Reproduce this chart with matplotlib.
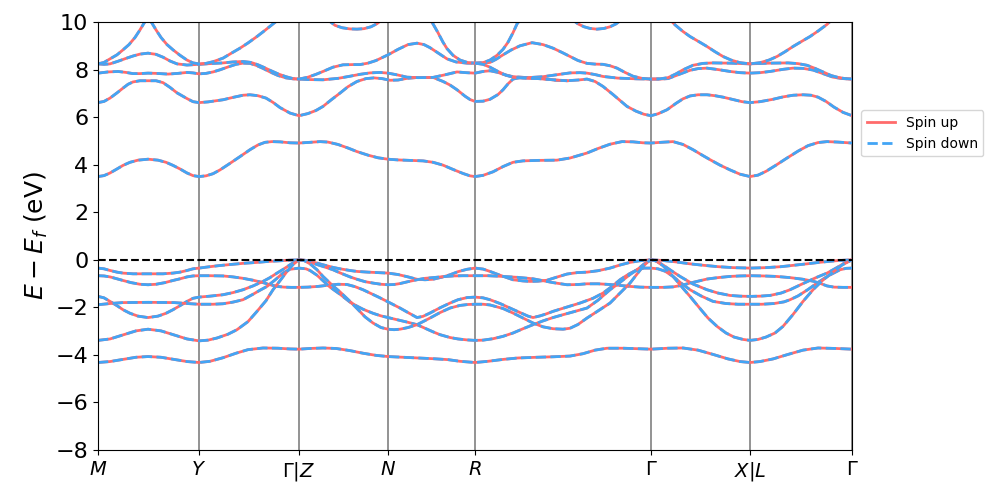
import matplotlib
matplotlib.use("Agg")
import matplotlib.pyplot as plt

# high-symmetry points along the path (k distance)
kpoint_labels = ["$M$", "$Y$", r"$\Gamma|Z$", "$N$", "$R$", r"$\Gamma$", "$X|L$", r"$\Gamma$"]
kpoint_pos = [0.00, 1.01, 2.01, 2.90, 3.77, 5.53, 6.52, 7.54]

# valence bands, (k, E - Ef)
v_a = [(0.00, -0.35), (0.06, -0.38), (0.12, -0.45), (0.19, -0.52), (0.25, -0.56), (0.35, -0.59), (0.50, -0.59),
       (0.65, -0.59), (0.75, -0.56), (0.82, -0.52), (0.89, -0.45), (0.95, -0.38), (1.01, -0.35),
       (1.10, -0.30), (1.20, -0.25), (1.32, -0.20), (1.45, -0.15), (1.59, -0.11), (1.70, -0.07), (1.79, -0.05),
       (1.90, -0.02), (2.01, 0.00),
       (2.07, -0.02), (2.12, -0.07), (2.19, -0.14), (2.25, -0.21), (2.35, -0.32), (2.42, -0.38), (2.52, -0.45),
       (2.59, -0.49), (2.70, -0.52), (2.80, -0.54), (2.90, -0.56), (3.00, -0.62), (3.10, -0.72), (3.19, -0.82),
       (3.27, -0.84), (3.35, -0.82), (3.45, -0.72), (3.52, -0.63), (3.60, -0.50), (3.69, -0.40), (3.77, -0.35),
       (3.85, -0.39), (3.92, -0.49), (4.02, -0.65), (4.15, -0.84), (4.25, -0.89), (4.32, -0.91), (4.40, -0.90),
       (4.49, -0.86), (4.58, -0.74), (4.69, -0.60), (4.79, -0.54), (4.89, -0.52), (5.00, -0.46), (5.12, -0.35),
       (5.22, -0.22), (5.32, -0.11), (5.42, -0.04), (5.53, 0.00),
       (5.65, -0.03), (5.78, -0.09), (5.92, -0.17), (6.05, -0.23), (6.20, -0.29), (6.35, -0.33), (6.52, -0.35),
       (6.68, -0.33), (6.83, -0.29), (6.96, -0.23), (7.09, -0.17), (7.23, -0.10), (7.38, -0.04), (7.54, 0.00)]
v_b = [(0.00, -0.67), (0.06, -0.68), (0.12, -0.72), (0.19, -0.80), (0.25, -0.87), (0.33, -0.96), (0.42, -1.03),
       (0.50, -1.05), (0.58, -1.03), (0.67, -0.96), (0.75, -0.87), (0.82, -0.80), (0.89, -0.72), (0.95, -0.68),
       (1.01, -0.67),
       (1.12, -0.67), (1.25, -0.68), (1.35, -0.72), (1.45, -0.78), (1.55, -0.86), (1.65, -0.96), (1.72, -1.05),
       (1.79, -1.12), (1.86, -1.15), (1.93, -1.16), (2.01, -1.16),
       (2.10, -1.15), (2.20, -1.12), (2.30, -1.07), (2.40, -1.03), (2.49, -1.04), (2.57, -1.13), (2.65, -1.26),
       (2.73, -1.42), (2.81, -1.58), (2.89, -1.75), (2.96, -1.90), (3.02, -2.03), (3.10, -2.22), (3.19, -2.43),
       (3.25, -2.38), (3.32, -2.24), (3.42, -2.02), (3.52, -1.82), (3.60, -1.68), (3.69, -1.59), (3.77, -1.57),
       (3.85, -1.60), (3.92, -1.68), (4.02, -1.84), (4.12, -2.03), (4.22, -2.22), (4.30, -2.37), (4.35, -2.43),
       (4.42, -2.36), (4.48, -2.28), (4.55, -2.17), (4.68, -2.00), (4.82, -1.82), (4.95, -1.62), (5.05, -1.40),
       (5.14, -1.12), (5.22, -0.84), (5.30, -0.62), (5.39, -0.42), (5.46, -0.35), (5.53, -0.35),
       (5.60, -0.38), (5.67, -0.48), (5.75, -0.70), (5.83, -0.98), (5.92, -1.26), (6.03, -1.52), (6.15, -1.75),
       (6.28, -1.84), (6.40, -1.87), (6.52, -1.87), (6.64, -1.87), (6.76, -1.84), (6.86, -1.77), (6.92, -1.68),
       (7.00, -1.52), (7.10, -1.25), (7.19, -0.98), (7.30, -0.68), (7.42, -0.42), (7.48, -0.36), (7.54, -0.35)]
v_c = [(0.00, -1.54), (0.06, -1.60), (0.12, -1.75), (0.19, -1.93), (0.25, -2.10), (0.32, -2.25), (0.40, -2.37),
       (0.50, -2.43), (0.60, -2.37), (0.68, -2.25), (0.75, -2.10), (0.82, -1.93), (0.89, -1.75), (0.95, -1.62),
       (1.01, -1.57),
       (1.12, -1.53), (1.25, -1.47), (1.35, -1.38), (1.45, -1.26), (1.55, -1.10), (1.65, -0.91), (1.72, -0.75),
       (1.79, -0.56), (1.86, -0.38), (1.92, -0.21), (1.97, -0.08), (2.01, 0.00),
       (2.07, -0.04), (2.12, -0.10), (2.19, -0.20), (2.25, -0.28), (2.35, -0.42), (2.42, -0.55), (2.52, -0.72),
       (2.59, -0.82), (2.67, -0.92), (2.75, -0.98), (2.83, -1.03), (2.90, -1.05), (2.96, -1.04), (3.02, -1.00),
       (3.10, -0.92), (3.19, -0.84), (3.27, -0.78), (3.35, -0.75), (3.45, -0.71), (3.55, -0.68), (3.65, -0.67),
       (3.77, -0.67),
       (3.90, -0.67), (4.05, -0.70), (4.20, -0.74), (4.35, -0.80), (4.45, -0.88), (4.55, -0.96), (4.69, -1.05),
       (4.80, -1.04), (4.89, -1.01), (5.00, -1.01), (5.12, -1.04), (5.22, -1.08), (5.32, -1.12), (5.42, -1.15),
       (5.53, -1.16),
       (5.65, -1.16), (5.75, -1.14), (5.83, -1.08), (5.92, -0.98), (6.00, -0.90), (6.09, -0.81), (6.20, -0.75),
       (6.32, -0.70), (6.42, -0.68), (6.52, -0.67), (6.65, -0.68), (6.78, -0.70), (6.92, -0.75), (7.05, -0.82),
       (7.15, -0.90), (7.22, -0.99), (7.29, -1.10), (7.36, -1.15), (7.45, -1.16), (7.54, -1.16)]
v_d = [(0.00, -1.89), (0.12, -1.84), (0.25, -1.80), (0.50, -1.79), (0.76, -1.80), (0.89, -1.84), (1.01, -1.87),
       (1.15, -1.87), (1.25, -1.85), (1.35, -1.78), (1.45, -1.68), (1.55, -1.45), (1.62, -1.28), (1.69, -1.12),
       (1.77, -0.85), (1.85, -0.56), (1.92, -0.40), (2.01, -0.35),
       (2.08, -0.38), (2.12, -0.45), (2.19, -0.65), (2.25, -0.88), (2.32, -1.15), (2.42, -1.45), (2.52, -1.78),
       (2.59, -1.95), (2.65, -2.08), (2.75, -2.25), (2.83, -2.36), (2.92, -2.45), (3.02, -2.55), (3.10, -2.63),
       (3.19, -2.73), (3.27, -2.88), (3.35, -3.03), (3.42, -3.15), (3.52, -3.27), (3.60, -3.33), (3.69, -3.37),
       (3.77, -3.39),
       (3.85, -3.38), (3.95, -3.32), (4.05, -3.22), (4.15, -3.08), (4.25, -2.90), (4.35, -2.73), (4.45, -2.57),
       (4.55, -2.43), (4.65, -2.31), (4.77, -2.17), (4.89, -2.03), (5.00, -1.70), (5.12, -1.26), (5.22, -0.95),
       (5.32, -0.62), (5.39, -0.42), (5.46, -0.18), (5.53, 0.00),
       (5.58, -0.05), (5.65, -0.22), (5.73, -0.45), (5.82, -0.70), (5.95, -1.02), (6.09, -1.26), (6.20, -1.40),
       (6.32, -1.50), (6.42, -1.53), (6.52, -1.54), (6.62, -1.53), (6.72, -1.50), (6.83, -1.40), (6.92, -1.26),
       (7.05, -1.00), (7.18, -0.75), (7.29, -0.56), (7.38, -0.35), (7.46, -0.15), (7.54, 0.00)]
v_e = [(0.00, -3.39), (0.12, -3.33), (0.25, -3.16), (0.38, -2.99), (0.50, -2.92), (0.63, -2.99), (0.76, -3.16),
       (0.89, -3.33), (1.01, -3.41),
       (1.10, -3.38), (1.19, -3.29), (1.30, -3.13), (1.39, -2.94), (1.50, -2.60), (1.59, -2.17), (1.68, -1.72),
       (1.75, -1.26), (1.82, -0.88), (1.89, -0.49), (1.95, -0.20), (2.01, 0.00),
       (2.06, -0.03), (2.12, -0.17), (2.19, -0.42), (2.25, -0.70), (2.35, -1.10), (2.42, -1.35), (2.52, -1.75),
       (2.59, -2.05), (2.67, -2.40), (2.75, -2.66), (2.83, -2.85), (2.90, -2.92), (2.96, -2.94), (3.02, -2.92),
       (3.10, -2.85), (3.19, -2.73), (3.32, -2.45), (3.42, -2.22), (3.52, -2.03), (3.62, -1.92), (3.70, -1.88),
       (3.77, -1.87),
       (3.85, -1.87), (3.92, -1.90), (4.05, -2.05), (4.15, -2.24), (4.25, -2.45), (4.35, -2.66), (4.45, -2.82),
       (4.55, -2.90), (4.65, -2.92), (4.72, -2.88), (4.80, -2.72), (4.89, -2.45), (5.00, -2.15), (5.12, -1.82),
       (5.22, -1.40), (5.32, -0.98), (5.39, -0.60), (5.45, -0.28), (5.50, -0.08), (5.53, 0.00),
       (5.58, -0.05), (5.65, -0.25), (5.75, -0.70), (5.85, -1.20), (5.92, -1.54), (6.02, -2.05), (6.10, -2.45),
       (6.19, -2.80), (6.28, -3.08), (6.36, -3.25), (6.45, -3.35), (6.52, -3.39), (6.60, -3.35), (6.68, -3.25),
       (6.77, -3.08), (6.85, -2.80), (6.95, -2.30), (7.05, -1.75), (7.15, -1.26), (7.25, -0.85), (7.35, -0.52),
       (7.44, -0.22), (7.54, 0.00)]
v_f = [(0.00, -4.32), (0.12, -4.28), (0.25, -4.19), (0.38, -4.10), (0.50, -4.07), (0.63, -4.10), (0.76, -4.19),
       (0.89, -4.28), (1.01, -4.32),
       (1.12, -4.27), (1.25, -4.12), (1.38, -3.93), (1.50, -3.78), (1.65, -3.71), (1.80, -3.72), (1.92, -3.75),
       (2.01, -3.76),
       (2.12, -3.73), (2.25, -3.71), (2.38, -3.73), (2.52, -3.82), (2.65, -3.93), (2.78, -4.02), (2.90, -4.07),
       (3.05, -4.10), (3.20, -4.13), (3.35, -4.16), (3.50, -4.20), (3.62, -4.27), (3.77, -4.32),
       (3.90, -4.27), (4.05, -4.19), (4.20, -4.13), (4.39, -4.10), (4.55, -4.08), (4.72, -4.05), (4.85, -3.95),
       (4.97, -3.80), (5.09, -3.72), (5.25, -3.72), (5.40, -3.74), (5.53, -3.76),
       (5.70, -3.72), (5.85, -3.71), (6.00, -3.80), (6.15, -3.98), (6.30, -4.17), (6.42, -4.28), (6.52, -4.32),
       (6.62, -4.28), (6.75, -4.17), (6.90, -3.98), (7.05, -3.80), (7.20, -3.71), (7.38, -3.73), (7.54, -3.76)]

# conduction bands
c_1 = [(0.00, 3.50), (0.06, 3.54), (0.12, 3.65), (0.19, 3.82), (0.25, 3.97), (0.32, 4.10), (0.40, 4.19),
       (0.50, 4.23), (0.60, 4.19), (0.68, 4.10), (0.75, 3.97), (0.82, 3.82), (0.89, 3.65), (0.95, 3.54),
       (1.01, 3.50),
       (1.08, 3.53), (1.15, 3.62), (1.22, 3.78), (1.30, 4.00), (1.42, 4.34), (1.52, 4.63), (1.60, 4.83),
       (1.67, 4.94), (1.74, 4.97), (1.82, 4.96), (1.92, 4.92), (2.01, 4.91),
       (2.12, 4.94), (2.22, 4.97), (2.30, 4.95), (2.40, 4.85), (2.50, 4.70), (2.59, 4.55), (2.70, 4.40),
       (2.80, 4.29), (2.90, 4.23), (3.00, 4.20), (3.12, 4.18), (3.25, 4.16), (3.35, 4.10), (3.45, 3.98),
       (3.55, 3.80), (3.65, 3.63), (3.72, 3.53), (3.77, 3.50),
       (3.85, 3.55), (3.95, 3.70), (4.05, 3.92), (4.15, 4.10), (4.25, 4.16), (4.40, 4.18), (4.59, 4.19),
       (4.72, 4.28), (4.89, 4.49), (5.00, 4.68), (5.12, 4.86), (5.24, 4.97), (5.35, 4.96), (5.45, 4.92),
       (5.53, 4.91),
       (5.63, 4.94), (5.75, 4.97), (5.85, 4.85), (5.95, 4.63), (6.05, 4.38), (6.12, 4.21), (6.22, 3.98),
       (6.32, 3.78), (6.42, 3.60), (6.52, 3.50), (6.60, 3.56), (6.68, 3.72), (6.78, 3.98), (6.89, 4.28),
       (7.00, 4.57), (7.10, 4.80), (7.20, 4.93), (7.29, 4.97), (7.40, 4.95), (7.54, 4.91)]
c_2 = [(0.00, 6.61), (0.06, 6.66), (0.12, 6.80), (0.19, 7.02), (0.25, 7.22), (0.30, 7.38), (0.35, 7.48),
       (0.42, 7.53), (0.50, 7.53), (0.58, 7.53), (0.65, 7.45), (0.72, 7.25), (0.79, 7.02), (0.89, 6.78),
       (0.95, 6.65), (1.01, 6.61),
       (1.10, 6.64), (1.25, 6.73), (1.35, 6.83), (1.45, 6.92), (1.52, 6.94), (1.60, 6.90), (1.68, 6.80),
       (1.75, 6.62), (1.82, 6.40), (1.92, 6.17), (2.01, 6.06),
       (2.10, 6.15), (2.18, 6.28), (2.25, 6.45), (2.33, 6.72), (2.42, 7.01), (2.50, 7.28), (2.59, 7.50),
       (2.68, 7.62), (2.76, 7.65), (2.84, 7.62), (2.92, 7.55), (3.00, 7.56), (3.09, 7.63), (3.20, 7.67),
       (3.35, 7.67), (3.45, 7.50), (3.52, 7.35), (3.59, 7.15), (3.67, 6.88), (3.72, 6.74), (3.77, 6.66),
       (3.85, 6.67), (3.92, 6.75), (4.00, 6.95), (4.05, 7.15), (4.10, 7.40), (4.15, 7.60), (4.22, 7.66),
       (4.32, 7.65), (4.45, 7.62), (4.58, 7.55), (4.69, 7.53), (4.80, 7.56), (4.89, 7.60), (4.97, 7.50),
       (5.05, 7.29), (5.15, 6.95), (5.22, 6.70), (5.29, 6.45), (5.38, 6.25), (5.46, 6.12), (5.53, 6.06),
       (5.60, 6.14), (5.69, 6.31), (5.78, 6.58), (5.85, 6.77), (5.92, 6.89), (6.00, 6.94), (6.09, 6.94),
       (6.17, 6.90), (6.25, 6.84), (6.35, 6.74), (6.44, 6.65), (6.52, 6.61), (6.62, 6.65), (6.75, 6.75),
       (6.85, 6.85), (6.95, 6.92), (7.05, 6.94), (7.13, 6.92), (7.20, 6.84), (7.28, 6.66), (7.36, 6.42),
       (7.45, 6.20), (7.54, 6.06)]
c_3 = [(0.00, 7.85), (0.10, 7.90), (0.20, 7.92), (0.28, 7.88), (0.35, 7.83), (0.42, 7.83), (0.50, 7.85),
       (0.58, 7.84), (0.70, 7.81), (0.80, 7.84), (0.89, 7.88), (0.95, 7.86), (1.01, 7.82),
       (1.08, 7.84), (1.15, 7.90), (1.22, 7.99), (1.30, 8.11), (1.38, 8.22), (1.45, 8.27), (1.52, 8.26),
       (1.58, 8.18), (1.65, 8.05), (1.72, 7.90), (1.80, 7.75), (1.88, 7.65), (1.95, 7.61), (2.01, 7.60),
       (2.10, 7.58), (2.25, 7.57), (2.40, 7.63), (2.52, 7.72), (2.62, 7.80), (2.72, 7.86), (2.82, 7.88),
       (2.90, 7.85), (3.00, 7.77), (3.09, 7.68), (3.20, 7.66), (3.35, 7.67), (3.47, 7.78), (3.59, 7.90),
       (3.68, 7.87), (3.77, 7.85),
       (3.85, 7.92), (3.92, 7.95), (4.00, 7.88), (4.05, 7.80), (4.15, 7.70), (4.30, 7.66), (4.45, 7.70),
       (4.60, 7.79), (4.72, 7.86), (4.82, 7.87), (4.89, 7.85), (4.97, 7.79), (5.05, 7.71), (5.20, 7.64),
       (5.39, 7.61), (5.53, 7.60),
       (5.62, 7.60), (5.70, 7.62), (5.80, 7.78), (5.92, 7.97), (6.00, 8.04), (6.09, 8.06), (6.20, 8.00),
       (6.32, 7.92), (6.42, 7.87), (6.52, 7.85), (6.62, 7.87), (6.72, 7.92), (6.85, 8.01), (6.95, 8.06),
       (7.05, 8.05), (7.15, 7.98), (7.25, 7.83), (7.35, 7.68), (7.45, 7.62), (7.54, 7.60)]
c_4 = [(0.00, 8.24), (0.06, 8.22), (0.12, 8.24), (0.20, 8.35), (0.28, 8.47), (0.35, 8.57), (0.42, 8.65),
       (0.50, 8.69), (0.58, 8.64), (0.65, 8.52), (0.72, 8.36), (0.79, 8.24), (0.89, 8.19), (1.01, 8.22),
       (1.12, 8.25), (1.25, 8.28), (1.35, 8.32), (1.45, 8.34), (1.53, 8.30), (1.60, 8.20), (1.66, 8.09),
       (1.72, 7.97), (1.80, 7.82), (1.88, 7.70), (1.95, 7.62), (2.01, 7.60),
       (2.10, 7.68), (2.18, 7.80), (2.25, 7.92), (2.35, 8.10), (2.45, 8.20), (2.55, 8.21), (2.62, 8.21),
       (2.70, 8.27), (2.78, 8.38), (2.90, 8.62), (3.00, 8.85), (3.10, 9.05), (3.19, 9.11), (3.26, 9.05),
       (3.32, 8.92), (3.40, 8.70), (3.49, 8.45), (3.58, 8.32), (3.69, 8.27), (3.77, 8.27),
       (3.85, 8.27), (3.92, 8.30), (3.98, 8.43), (4.05, 8.62), (4.13, 8.82), (4.22, 9.00), (4.34, 9.13),
       (4.45, 9.05), (4.55, 8.90), (4.64, 8.72), (4.72, 8.55), (4.80, 8.38), (4.89, 8.26), (4.97, 8.23),
       (5.05, 8.22), (5.12, 8.16), (5.19, 8.06), (5.27, 7.88), (5.35, 7.72), (5.44, 7.63), (5.53, 7.60),
       (5.62, 7.61), (5.70, 7.66), (5.78, 7.82), (5.85, 7.99), (5.95, 8.18), (6.05, 8.26), (6.15, 8.28),
       (6.32, 8.27), (6.52, 8.24), (6.72, 8.27), (6.90, 8.28), (7.00, 8.25), (7.09, 8.18), (7.17, 8.05),
       (7.25, 7.90), (7.33, 7.75), (7.40, 7.67), (7.47, 7.62), (7.54, 7.60)]
c_5 = [(0.00, 8.24), (0.06, 8.30), (0.12, 8.45), (0.19, 8.62), (0.25, 8.83), (0.31, 9.05), (0.37, 9.35),
       (0.42, 9.67), (0.46, 9.95), (0.50, 10.20), (0.54, 9.95), (0.58, 9.67), (0.63, 9.35), (0.69, 9.05),
       (0.75, 8.83), (0.82, 8.60), (0.89, 8.40), (0.95, 8.28), (1.01, 8.24),
       (1.08, 8.26), (1.15, 8.33), (1.25, 8.48), (1.33, 8.68), (1.42, 8.90), (1.50, 9.12), (1.59, 9.39),
       (1.67, 9.65), (1.75, 9.92), (1.82, 10.15), (1.90, 10.40)]
c_6 = [(2.28, 10.20), (2.32, 10.02), (2.37, 9.86), (2.44, 9.76), (2.52, 9.71), (2.59, 9.70), (2.66, 9.72),
       (2.73, 9.80), (2.79, 9.93), (2.84, 10.10), (2.88, 10.25)]
c_7 = [(3.25, 10.45), (3.30, 10.20), (3.35, 9.92), (3.40, 9.55), (3.45, 9.15), (3.49, 8.88), (3.55, 8.60),
       (3.62, 8.40), (3.70, 8.29), (3.77, 8.27), (3.85, 8.29), (3.92, 8.40), (3.99, 8.60), (4.05, 8.85),
       (4.10, 9.15), (4.15, 9.55), (4.19, 9.92), (4.24, 10.20), (4.29, 10.45)]
c_8 = [(4.72, 10.20), (4.76, 10.05), (4.80, 9.92), (4.86, 9.80), (4.92, 9.73), (4.99, 9.70), (5.06, 9.73),
       (5.12, 9.80), (5.18, 9.92), (5.22, 10.05), (5.26, 10.20)]
c_9 = [(5.67, 10.40), (5.72, 10.10), (5.77, 9.88), (5.85, 9.60), (5.92, 9.39), (6.01, 9.17), (6.09, 8.97),
       (6.17, 8.75), (6.25, 8.55), (6.33, 8.40), (6.42, 8.29), (6.52, 8.24), (6.62, 8.29), (6.71, 8.40),
       (6.79, 8.55), (6.87, 8.75), (6.95, 8.97), (7.03, 9.17), (7.12, 9.39), (7.20, 9.62), (7.29, 9.90),
       (7.34, 10.10), (7.39, 10.40)]
c_10 = [(3.77, 8.27), (3.85, 8.22), (3.92, 8.10), (4.00, 7.92), (4.08, 7.76), (4.15, 7.68), (4.25, 7.64),
        (4.40, 7.62), (4.55, 7.57), (4.69, 7.53)]

bands = [v_a, v_b, v_c, v_d, v_e, v_f, c_1, c_2, c_3, c_4, c_5, c_6, c_7, c_8, c_9, c_10]

up_color = "#ff6b6b"
down_color = "#42a5f5"

fig = plt.figure(figsize=(9.97, 4.98), dpi=100)
ax = fig.add_axes([0.0983, 0.0964, 0.7563, 0.8594])

for i, band in enumerate(bands):
    k = [p[0] for p in band]
    e = [p[1] for p in band]
    ax.plot(k, e, color=up_color, lw=2, solid_joinstyle="round",
            label="Spin up" if i == 0 else None)
    ax.plot(k, e, color=down_color, lw=2, ls="--",
            label="Spin down" if i == 0 else None)

for x in kpoint_pos:
    ax.axvline(x, color="gray", lw=1.2, zorder=0)
ax.axhline(0, color="black", lw=1.5, ls="--")

ax.set_xlim(kpoint_pos[0], kpoint_pos[-1])
ax.set_ylim(-8, 10)
ax.set_xticks(kpoint_pos)
ax.set_xticklabels(kpoint_labels, fontsize=14)
ax.set_yticks(range(-8, 11, 2))
ax.tick_params(axis="y", labelsize=16)
ax.set_ylabel("$E - E_f$ (eV)", fontsize=18)

ax.legend(loc="center left", bbox_to_anchor=(1.003, 0.74), fontsize=10)

fig.savefig("out.png", dpi=100)
